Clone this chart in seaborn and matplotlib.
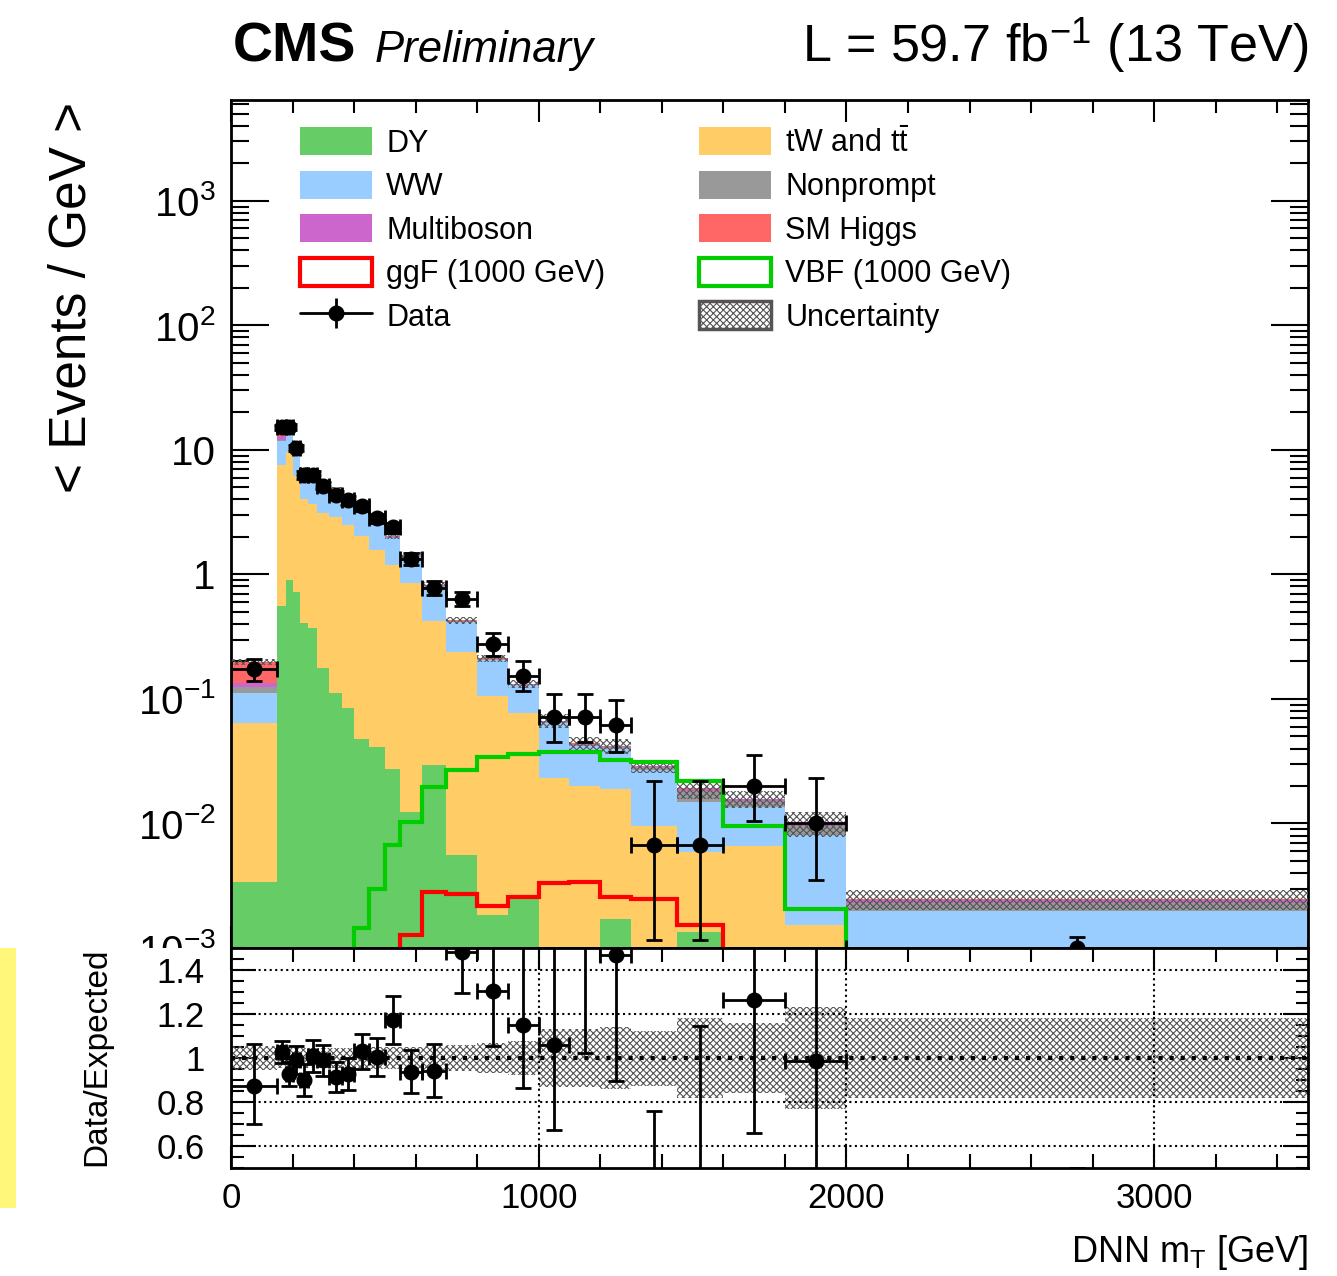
import numpy as np
import pandas as pd
import matplotlib
matplotlib.use("Agg")
import matplotlib.pyplot as plt
import seaborn as sns
from matplotlib.patches import Patch, Rectangle
from matplotlib.lines import Line2D
from matplotlib.legend_handler import HandlerTuple
from matplotlib.ticker import (FixedLocator, FixedFormatter, MultipleLocator,
                               NullFormatter, LogLocator)

# ---------------- data (per GeV) ----------------
edges = [0, 150, 180, 200, 225, 250, 280, 320, 360, 400, 450, 500, 550, 620,
         700, 800, 900, 1000, 1100, 1200, 1300, 1450, 1600, 1800, 2000, 3500]

dy = [0.0034, 0.557, 0.895, 0.726, 0.405, 0.371, 0.177, 0.112, 0.085, 0.0475,
      0.0415, 0.0273, 0.0123, 0.0294, 0.00558, 0.00183, 0.00248, 0.0, 0.0,
      0.0017, 0.0, 0.00135, 0.0, 0.0, 0.0]
top = [0.0612, 6.94, 8.7, 5.47, 3.6, 3.32, 2.94, 2.77, 2.39, 2.0, 1.52, 1.17,
       0.838, 0.39, 0.232, 0.104, 0.0753, 0.023, 0.0201, 0.0172, 0.0096,
       0.0045, 0.00663, 0.00154, 0.0]
ww = [0.048, 4.2, 6.14, 3.93, 2.755, 2.29, 1.93, 1.75, 1.62, 1.26, 1.16, 0.77,
      0.53, 0.38, 0.175, 0.0986, 0.0505, 0.0417, 0.0219, 0.0211, 0.0174,
      0.009, 0.0069, 0.0065, 0.002]
nonprompt = [0.011, 0.37, 0.2, 0.16, 0.105, 0.093, 0.078, 0.072, 0.064, 0.051,
             0.042, 0.031, 0.021, 0.012, 0.0065, 0.0032, 0.002, 0.001, 0.001,
             0.001, 0.0012, 0.0035, 0.0015, 0.0015, 0.0003]
multiboson = [0.010, 0.83, 0.25, 0.16, 0.105, 0.093, 0.078, 0.072, 0.064,
              0.051, 0.042, 0.031, 0.021, 0.012, 0.0065, 0.0032, 0.002, 0.001,
              0.0008, 0.0008, 0.0006, 0.0005, 0.0007, 0.0005, 0.00015]
smhiggs = [0.065, 1.9, 0.2, 0.05, 0.035, 0.031, 0.026, 0.024, 0.021, 0.017,
           0.014, 0.010, 0.007, 0.004, 0.002, 0.001, 0.0007, 0.0003, 0.0002,
           0.0002, 0.0002, 0.0003, 0.0001, 0.0001, 0.00001]
ggf = [0, 0, 0, 0, 0, 0, 0, 0, 0, 0, 0, 0, 0.00127, 0.0028, 0.00272, 0.00219,
       0.00255, 0.00333, 0.0034, 0.00258, 0.00248, 0.00154, 0, 0, 0]
vbf = [0, 0, 0, 0, 0, 0, 0, 0, 0, 0.00144, 0.0030, 0.0067, 0.0103, 0.0197,
       0.027, 0.0345, 0.036, 0.0372, 0.0372, 0.0324, 0.0309, 0.0218, 0.0095,
       0.00206, 0]
data = [0.173, 15.2, 15.2, 10.4, 6.3, 6.25, 5.17, 4.38, 3.94, 3.53, 2.83,
        2.39, 1.34, 0.78, 0.634, 0.276, 0.153, 0.071, 0.071, 0.0616, 0.00667,
        0.00667, 0.020, 0.010, 0.0]
data_lo = [0.034, 0.71, 0.87, 0.65, 0.5, 0.46, 0.36, 0.33, 0.31, 0.27, 0.24,
           0.22, 0.14, 0.10, 0.08, 0.053, 0.038, 0.026, 0.026, 0.024, 0.0055,
           0.0055, 0.0096, 0.0065, 0.0]
data_hi = [0.038, 0.71, 0.87, 0.65, 0.5, 0.46, 0.36, 0.33, 0.31, 0.27, 0.24,
           0.22, 0.14, 0.10, 0.085, 0.063, 0.049, 0.038, 0.038, 0.036, 0.0153,
           0.0153, 0.0158, 0.0132, 0.00123]
unc_rel = [0.055, 0.045, 0.045, 0.045, 0.045, 0.045, 0.045, 0.045, 0.045,
           0.05, 0.05, 0.05, 0.05, 0.055, 0.06, 0.068, 0.077, 0.13, 0.13, 0.14,
           0.125, 0.18, 0.16, 0.23, 0.18]

process_names = ["DY", "tW and tt", "WW", "Nonprompt", "Multiboson", "SM Higgs"]
process_colors = ["#66cc66", "#ffcc66", "#99ccff", "#999999", "#cc66cc", "#ff6666"]

# ---------------- style ----------------
sns.set_theme(style="ticks", rc={"axes.edgecolor": "black", "xtick.color": "black",
                                 "ytick.color": "black", "text.color": "black",
                                 "axes.labelcolor": "black"})
plt.rcParams['font.family'] = ['Liberation Sans', 'DejaVu Sans']
plt.rcParams['mathtext.fontset'] = 'custom'
plt.rcParams['mathtext.rm'] = 'Liberation Sans'
plt.rcParams['mathtext.it'] = 'Liberation Sans:italic'
plt.rcParams['mathtext.bf'] = 'Liberation Sans:bold'
plt.rcParams['hatch.linewidth'] = 0.8

W, H = 1337, 1276
fig = plt.figure(figsize=(W / 100, H / 100), dpi=100)


def fx(px):
    return px / W


def fy(py):
    return 1 - py / H


ax = fig.add_axes([fx(231), fy(948), fx(1308) - fx(231), fy(100) - fy(948)])
rax = fig.add_axes([fx(231), fy(1168), fx(1308) - fx(231), fy(948) - fy(1168)])
ax.set_zorder(0)
rax.set_zorder(2)

edges_a = np.array(edges, float)
centers = 0.5 * (edges_a[1:] + edges_a[:-1])
halfw = 0.5 * np.diff(edges_a)

series = [dy, top, ww, nonprompt, multiboson, smhiggs]
rows = []
for name, vals in zip(process_names, series):
    for c, v in zip(centers, vals):
        rows.append({"x": c, "w": v, "process": name})
df = pd.DataFrame(rows)
palette = dict(zip(process_names, process_colors))
sns.histplot(data=df, x="x", weights="w", hue="process",
             hue_order=process_names[::-1], palette=palette, bins=list(edges),
             multiple="stack", element="step", alpha=1, linewidth=0,
             legend=False, ax=ax)

tot = np.sum([np.array(s, float) for s in series], axis=0)
unc = np.array(unc_rel)
hatch_col = "#555555"
ax.fill_between(edges_a, np.append(tot * (1 - unc), tot[-1] * (1 - unc[-1])),
                np.append(tot * (1 + unc), tot[-1] * (1 + unc[-1])), step="post",
                facecolor="none", edgecolor=hatch_col, hatch="xxxxx", linewidth=0,
                zorder=3)

ax.stairs(ggf, edges_a, color="#ff0000", linewidth=3, baseline=None, zorder=4)
ax.stairs(vbf, edges_a, color="#00cc00", linewidth=3, baseline=None, zorder=4)

ymin, ymax = 1e-3, 10 ** 3.81
d = np.array(data)
dlo = np.array(data_lo)
dhi = np.array(data_hi)
dplot = np.where(d > 0, d, ymin)
lo_plot = np.minimum(dlo, dplot - 1e-9)
hi_plot = d + dhi - dplot
ax.errorbar(centers, dplot, xerr=halfw, yerr=[lo_plot, hi_plot], fmt="o",
            color="black", ms=10.5, elinewidth=2, capsize=6, capthick=2, zorder=6)

ax.set_yscale("log")
ax.set_xlim(0, 3500)
ax.set_ylim(ymin, ymax)
ax.set_xlabel("")
ax.set_ylabel("")
ax.xaxis.set_major_locator(MultipleLocator(1000))
ax.xaxis.set_minor_locator(MultipleLocator(200))
ax.yaxis.set_major_locator(FixedLocator([1e-3, 1e-2, 1e-1, 1, 10, 100, 1000]))
ax.yaxis.set_major_formatter(FixedFormatter([r"$10^{-3}$", r"$10^{-2}$", r"$10^{-1}$",
                                             "1", "10", r"$10^{2}$", r"$10^{3}$"]))
ax.yaxis.set_minor_locator(LogLocator(base=10, subs=np.arange(2, 10), numticks=100))
ax.yaxis.set_minor_formatter(NullFormatter())
ax.tick_params(axis="both", which="both", direction="in", top=True, right=True,
               width=1.5, color="black")
ax.tick_params(axis="y", which="major", length=27, labelsize=29, pad=11)
ax.tick_params(axis="y", which="minor", length=13)
ax.tick_params(axis="x", which="major", length=16, labelbottom=False)
ax.tick_params(axis="x", which="minor", length=9)
for s in ax.spines.values():
    s.set_linewidth(2)
    s.set_color("black")

# ---------------- ratio ----------------
ratio = d / tot
rlo = dlo / tot
rhi = dhi / tot
rax.fill_between(edges_a, np.append(1 - unc, 1 - unc[-1]), np.append(1 + unc, 1 + unc[-1]),
                 step="post", facecolor="none", edgecolor=hatch_col, hatch="xxxxx",
                 linewidth=0, zorder=1)
for yv in [0.6, 0.8, 1.2, 1.4]:
    rax.axhline(yv, color="black", ls=":", lw=1.5, zorder=2)
for xv in [1000, 2000, 3000]:
    rax.axvline(xv, color="black", ls=":", lw=1.5, zorder=2)
rax.axhline(1.0, color="black", ls=":", lw=3, zorder=2)
rax.errorbar(centers, ratio, xerr=halfw, yerr=[rlo, rhi], fmt="o", color="black",
             ms=10.5, elinewidth=2, capsize=6, capthick=2, zorder=5)
rax.set_xlim(0, 3500)
rax.set_ylim(0.5, 1.5)
rax.xaxis.set_major_locator(MultipleLocator(1000))
rax.xaxis.set_minor_locator(MultipleLocator(200))
rax.yaxis.set_major_locator(FixedLocator([0.6, 0.8, 1.0, 1.2, 1.4]))
rax.yaxis.set_major_formatter(FixedFormatter(["0.6", "0.8", "1", "1.2", "1.4"]))
rax.yaxis.set_minor_locator(MultipleLocator(0.05))
rax.tick_params(axis="both", which="both", direction="in", top=True, right=True,
                width=1.5, color="black")
rax.tick_params(axis="x", which="major", length=16, labelsize=25, pad=10)
rax.tick_params(axis="x", which="minor", length=10)
rax.tick_params(axis="y", which="major", length=18, labelsize=25, pad=19)
rax.tick_params(axis="y", which="minor", length=9)
for s in rax.spines.values():
    s.set_linewidth(2)
    s.set_color("black")

# cover the lower part of the main panel's bottom label (as in the ROOT canvas)
fig.add_artist(Rectangle((fx(100), fy(1175)), fx(230) - fx(100), fy(948) - fy(1175),
                         transform=fig.transFigure, facecolor="white",
                         edgecolor="none", zorder=1))
fig.add_artist(Rectangle((0, fy(1208)), fx(16), fy(948) - fy(1208),
                         transform=fig.transFigure, facecolor="#fff77a",
                         edgecolor="none", zorder=1))

# ---------------- legend ----------------
h = {n: Patch(facecolor=c, edgecolor="none") for n, c in zip(process_names, process_colors)}
h_ggf = Patch(facecolor="white", edgecolor="#ff0000", linewidth=3)
h_vbf = Patch(facecolor="white", edgecolor="#00cc00", linewidth=3)
h_unc = Patch(facecolor="white", edgecolor=hatch_col, hatch="xxxxx", linewidth=2.5)
h_data = (Line2D([], [], color="black", lw=2, marker="o", ms=10.5),
          Line2D([], [], color="black", ls="none", marker="|", ms=22, mew=2))
leg_kw = dict(loc="upper left", bbox_transform=fig.transFigure, frameon=False,
              fontsize=22, handlelength=2.36, handleheight=1.05, handletextpad=0.46,
              labelspacing=0.39, borderpad=0, borderaxespad=0,
              handler_map={tuple: HandlerTuple(ndivide=1, pad=0)})
leg1 = ax.legend([h["DY"], h["WW"], h["Multiboson"], h_ggf, h_data],
                 ["DY", "WW", "Multiboson", "ggF (1000 GeV)", "Data"],
                 bbox_to_anchor=(fx(300), fy(127)), **leg_kw)
ax.add_artist(leg1)
ax.legend([h["tW and tt"], h["Nonprompt"], h["SM Higgs"], h_vbf, h_unc],
          [r"tW and t$\bar{\mathrm{t}}$", "Nonprompt", "SM Higgs", "VBF (1000 GeV)",
           "Uncertainty"],
          bbox_to_anchor=(fx(699), fy(127)), **leg_kw)

# ---------------- texts ----------------
fig.text(fx(233), fy(62), "CMS", fontsize=40, fontweight="bold", va="baseline", ha="left")
fig.text(fx(375), fy(62), "Preliminary", fontsize=31.5, style="italic", va="baseline",
         ha="left")
fig.text(fx(1308), fy(62), r"L = 59.7 fb$^{-1}$ (13 TeV)", fontsize=37.5, va="baseline",
         ha="right")
fig.text(fx(72), fy(297), "< Events / GeV >", rotation=90, fontsize=37, ha="center",
         va="center")
fig.text(fx(97), fy(1057), "Data/Expected", rotation=90, fontsize=24, ha="center",
         va="center", zorder=5)
fig.text(fx(1308), fy(1252), r"DNN m$_{\mathrm{T}}$ [GeV]", fontsize=26, ha="right",
         va="center")

fig.savefig("out.png", dpi=100)
